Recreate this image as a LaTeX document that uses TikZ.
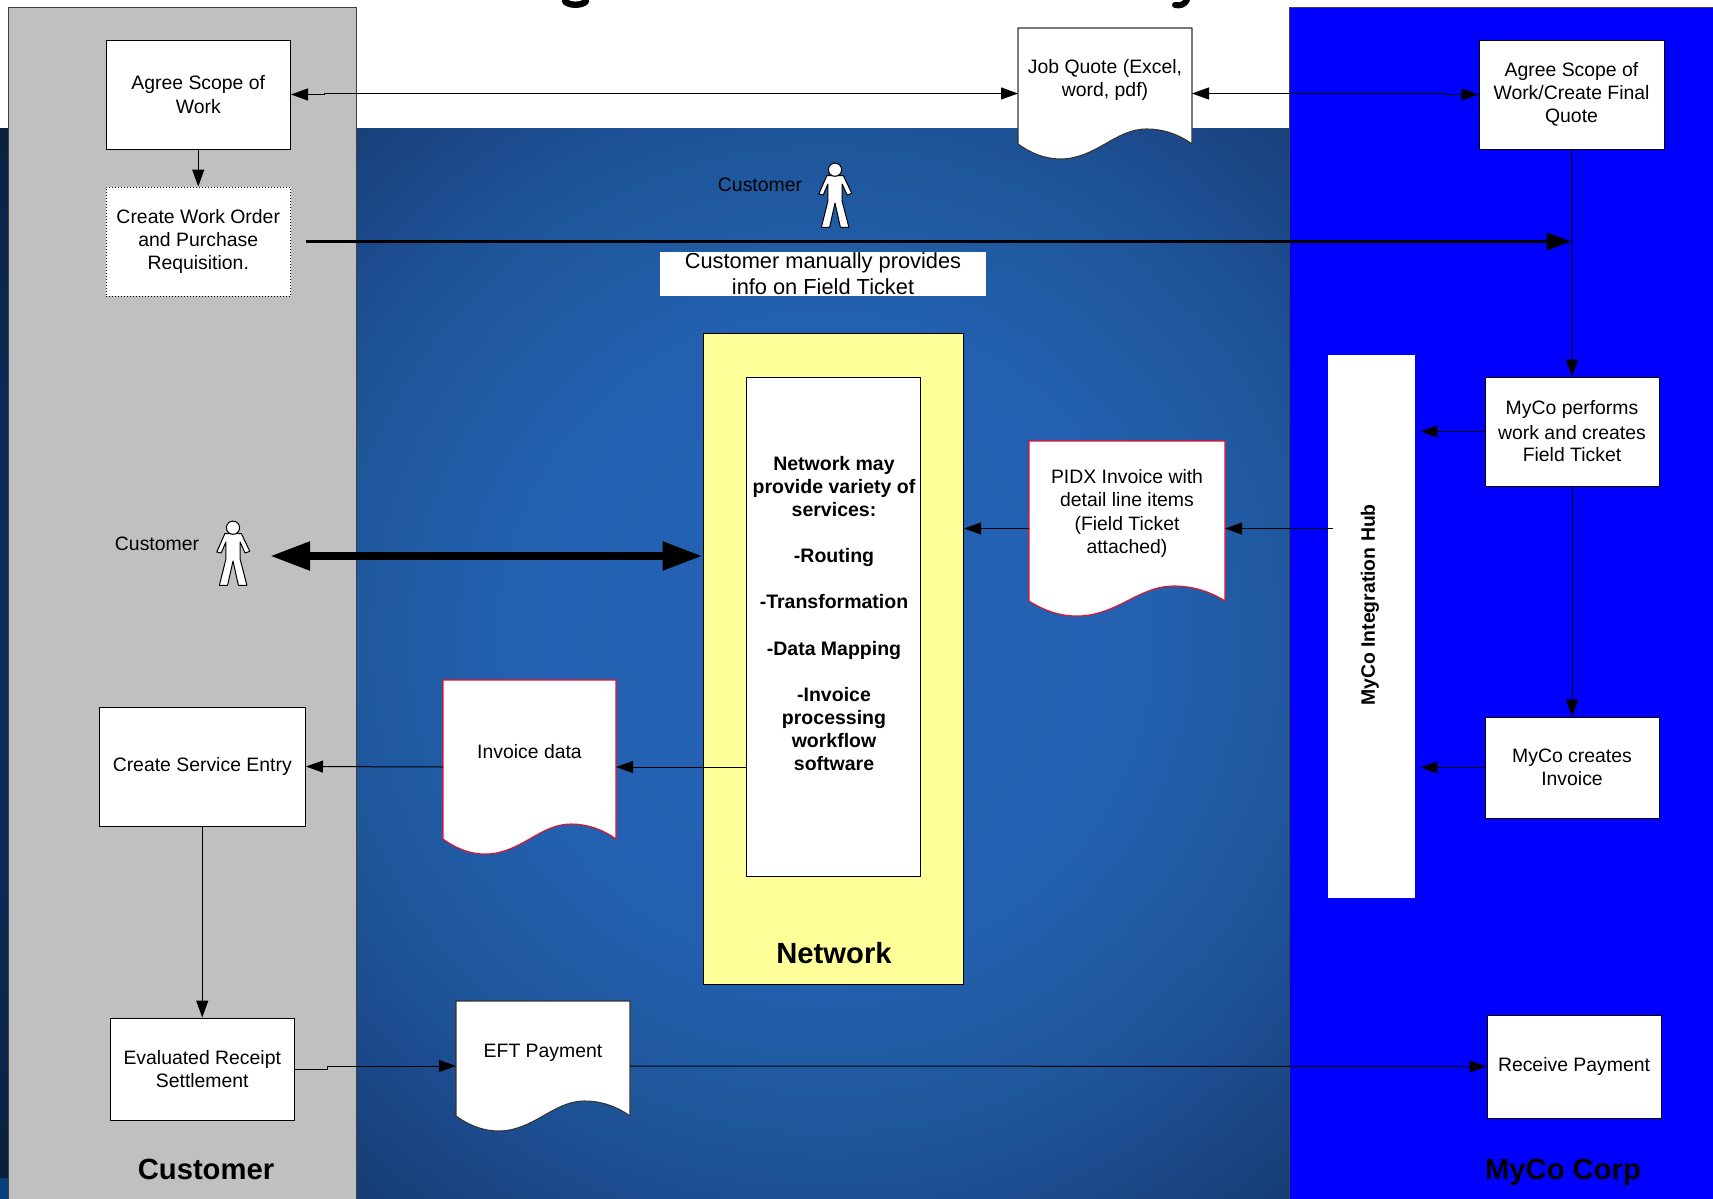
\documentclass[tikz,border=0pt]{standalone}
\usepackage{fontspec}
\setmainfont{Liberation Sans}
\usetikzlibrary{arrows.meta,calc}
\definecolor{panelgray}{HTML}{C0C0C0}
\definecolor{netyellow}{HTML}{FFFF99}
\definecolor{corpblue}{HTML}{0000FF}
\definecolor{docred}{HTML}{E8102A}
\definecolor{stripblue}{HTML}{0A4080}
\definecolor{bgA}{HTML}{2462B5}
\definecolor{bgB}{HTML}{2360B0}
\definecolor{bgC}{HTML}{1E5699}
\definecolor{bgD}{HTML}{1C4C90}
\definecolor{bgE}{HTML}{173E75}
\definecolor{bgF}{HTML}{0C2D5A}
\definecolor{bgG}{HTML}{0A2040}
\definecolor{bgH}{HTML}{0A1A33}
\pgfdeclareradialshading{bgglow}{\pgfpoint{0bp}{0bp}}{%
  color(0bp)=(bgA);color(8bp)=(bgB);color(12.5bp)=(bgC);color(14.5bp)=(bgD);color(18bp)=(bgE);color(20.5bp)=(bgF);color(24.25bp)=(bgG);color(25bp)=(bgH);color(50bp)=(bgH)}
\tikzset{
  body/.style={font=\fontsize{9.7}{11.6}\selectfont,align=center,text=black},
  procbox/.style={draw=black,line width=.5pt,fill=white,inner sep=1pt,body},
  dottedbox/.style={procbox,densely dotted},
  docanchor/.style={inner sep=0pt,outer sep=0pt},
  panel/.style={draw=black!75,line width=.5pt},
  flow/.style={draw=black,line width=.5pt,-{Triangle[length=8.5pt,width=6pt]}},
  flowboth/.style={draw=black,line width=.5pt,{Triangle[length=8.5pt,width=6pt]}-{Triangle[length=8.5pt,width=6pt]}},
  heavy/.style={draw=black,line width=1.9pt,-{Triangle[length=12.5pt,width=8.5pt]}},
  heavier/.style={draw=black,line width=4pt,{Triangle[length=20pt,width=13.5pt]}-{Triangle[length=20pt,width=13.5pt]}},
  heading/.style={font=\fontsize{14.6}{17}\selectfont\bfseries,text=black},
  person/.pic={
    \draw[fill=white,line width=.5pt,line join=round]
      (-8.2,12.7)--(-16.2,31)--(-11.8,32)--(-7.1,21)--(-7.1,38)--(-13.6,64.3)--(-5.4,64.3)
      --(0,40)--(5.4,64.3)--(13.9,64.3)--(7.1,38)--(7.1,21)--(12.1,32)--(16.8,30.3)--(8.4,12.7)--cycle;
    \draw[fill=white,line width=.5pt] (0,6.7) circle[radius=3.3pt];
  }
}
% name, left, top, right, bottom, border colour, text shift, text
\newcommand{\docnode}[8]{%
  \node[docanchor,minimum width={(#4-#2)*0.5pt},minimum height={(#5-#3)*0.5pt}] (#1) at ({(#2+#4)/2},{(#3+#5)/2}) {};
  \draw[fill=white,draw=#6,line width=.55pt,line join=round]
    (#2,#3)--(#4,#3)--(#4,#5-15)
    ..controls ({#4-.08*(#4-#2)},#5-25) and ({#4-.17*(#4-#2)},#5-30) ..({#4-.26*(#4-#2)},#5-30)
    ..controls ({#4-.35*(#4-#2)},#5-30) and ({#4-.42*(#4-#2)},#5-23) ..({#4-.5*(#4-#2)},#5-15)
    ..controls ({#2+.42*(#4-#2)},#5-7) and ({#2+.34*(#4-#2)},#5) ..({#2+.245*(#4-#2)},#5)
    ..controls ({#2+.16*(#4-#2)},#5) and ({#2+.08*(#4-#2)},#5-5) ..(#2,#5-15)--cycle;
  \node[body] (#1text) at ($(#1.center)+(0,#7)$) {#8};
}
% name, left, top, right, bottom, style, text
\newcommand{\boxnode}[7]{%
  \node[#6,minimum width={(#4-#2)*0.5pt},minimum height={(#5-#3)*0.5pt}] (#1) at ({(#2+#4)/2},{(#3+#5)/2}) {#7};
}
\begin{document}
\begin{tikzpicture}[x=0.5pt,y=-0.5pt]
\useasboundingbox (0,0) rectangle (1713,1199);
\fill[white] (0,0) rectangle (1713,1199);
% backdrop
\begin{scope}
  \clip (0,128) rectangle (1290,1199);
  \shade[shading=bgglow] (825,640) circle[radius=500pt];
\end{scope}
\fill[stripblue] (0,1178) rectangle (8,1199);
% cropped title descenders
\draw[black,line width=3.2pt,line cap=round] (565,1) .. controls (568,6) and (583,6) .. (586,1);
\draw[black,line width=3pt,line cap=round] (1187,0) .. controls (1184,5) and (1180,6) .. (1175,5);
% panels
\fill[panelgray] (8,7) rectangle (356,1199);
\draw[panel] (8,1199)--(8,7)--(356,7)--(356,1199);
\fill[corpblue] (1289,7) rectangle (1713,1199);
\draw[panel] (1289,1199)--(1289,7)--(1713,7);
\boxnode{net}{703}{333}{963.5}{984}{draw=black,line width=.5pt,fill=netyellow}{}
\node[heading] at (834,953) {Network};
\boxnode{svcs}{746}{377}{920.5}{876}{procbox}{}
\node[align=center,font=\fontsize{9.75}{11.55}\selectfont\bfseries] at (834,613.5)
  {Network may\\provide variety of\\services:\\[11.55pt]-Routing\\[11.55pt]-Transformation\\[11.55pt]-Data Mapping\\[11.55pt]-Invoice\\processing\\workflow\\software};
\boxnode{hub}{1328}{355}{1415}{898}{fill=white,draw=none}{}
\node[rotate=90,font=\fontsize{9.7}{11.7}\selectfont\bfseries] at (1370,605) {MyCo Integration Hub};
% process boxes
\boxnode{asw}{106}{40}{290.5}{149}{procbox}{Agree Scope of\\Work}
\boxnode{cwo}{106}{187}{290.5}{296}{dottedbox}{\phantom{x}}
\node[body] at (cwo.center) {Create Work Order\\and Purchase\\Requisition.};
\boxnode{aqf}{1479}{40}{1664}{149}{procbox}{Agree Scope of\\Work/Create Final\\Quote}
\boxnode{perf}{1485}{377}{1659}{486}{procbox}{\raisebox{.8pt}{\shortstack{MyCo performs\\[.6pt]work and creates\\[.6pt]Field Ticket}}}
\boxnode{inv}{1485}{717}{1659}{818}{procbox}{MyCo creates\\Invoice}
\boxnode{rcv}{1487}{1015}{1661}{1118}{procbox}{Receive Payment}
\boxnode{svc}{99}{707}{305.5}{826}{procbox}{Create Service Entry}
\boxnode{ers}{110}{1018}{294.5}{1120}{procbox}{Evaluated Receipt\\Settlement}
% documents
\docnode{jq}{1018}{28}{1192}{159}{black!80}{-13.5}{Job Quote (Excel,\\word, pdf)}
\docnode{pidx}{1029}{441}{1225}{616}{docred}{-15}{PIDX Invoice with\\detail line items\\(Field Ticket\\attached)}
\docnode{idata}{443}{680}{616}{854}{docred}{-15}{Invoice data}
\docnode{eft}{456}{1001}{630}{1131}{black!80}{-13}{EFT Payment}
% note and labels
\boxnode{note}{660}{252}{986}{296}{fill=white,inner sep=0pt}{}
\node[align=center,font=\fontsize{10.9}{13}\selectfont] at (823,273.5) {Customer manually provides\\info on Field Ticket};
\node[body] (lblA) at (760,185) {Customer};
\node[body] (lblB) at (157,544) {Customer};
\pic at (835,163) {person};
\pic at (233,521) {person};
\node[heading] (hcust) at (206,1169) {Customer};
\node[heading] (hcorp) at (1563,1172) {MyCo Corp};
% connectors
\draw[flow] (asw.south) -- (cwo.north);
\draw[flowboth] (asw.east) -- ++(33,0) |- (jq.west);
\draw[flowboth] (aqf.west) -- ++(-33,0) |- (jq.east);
\draw[flow] (aqf.south) -- (perf.north);
\draw[flow] (perf.south) -- (inv.north);
\draw[heavy] ($(cwo.east)+(15,0)$) -- (cwo.east -| aqf.south);
\coordinate (custarrow) at (270,556);
\draw[heavier] (custarrow) -- (custarrow -| net.west);
\draw[flow] (perf.west) -- ($(perf.west -| hub.east)+(5,0)$);
\draw[flow] (inv.west) -- ($(inv.west -| hub.east)+(5,0)$);
\draw[flow] ($(pidx.east -| hub.west)+(5,0)$) -- (pidx.east);
\draw[flow] (pidx.west) -- (pidx.west -| net.east);
\draw[flow] (idata.east -| svcs.west) -- (idata.east);
\draw[flow] (idata.west) -- (svc.east);
\draw[flow] (svc.south) -- (ers.north);
\draw[flow] (ers.east) -- ++(32,0) |- (eft.west);
\draw[flow] (eft.east) -- (rcv.west);
\end{tikzpicture}
\end{document}
